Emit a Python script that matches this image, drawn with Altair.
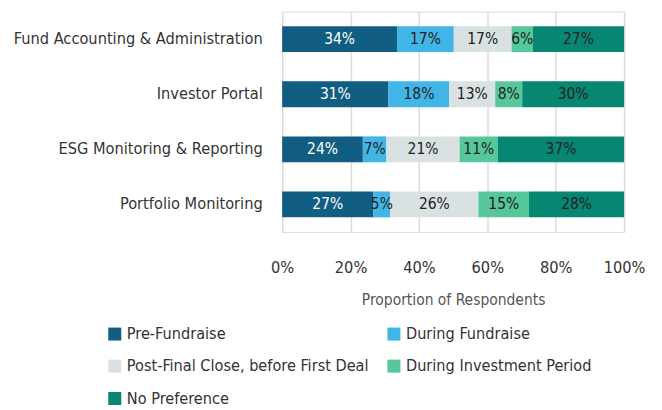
import altair as alt
import pandas as pd

categories = ["Fund Accounting & Administration", "Investor Portal",
              "ESG Monitoring & Reporting", "Portfolio Monitoring"]
series = ["Pre-Fundraise", "During Fundraise", "Post-Final Close, before First Deal",
          "During Investment Period", "No Preference"]
pre_fundraise = [33.6, 31.1, 23.6, 26.7]
during_fundraise = [16.6, 17.8, 6.9, 4.9]
post_final_close = [16.9, 13.4, 21.4, 25.8]
during_investment = [6.2, 7.9, 11.2, 14.8]
no_preference = [26.7, 29.8, 36.9, 27.8]
colors = ["#115e82", "#41b6e6", "#d9e1e2", "#56c79a", "#078771"]
x_ticks = [0, 20, 40, 60, 80, 100]

all_vals = [pre_fundraise, during_fundraise, post_final_close, during_investment, no_preference]
rows = []
for si, (s, vals) in enumerate(zip(series, all_vals)):
    for ci, c in enumerate(categories):
        rows.append({"category": c, "series": s, "order": si, "value": vals[ci],
                     "label": f"{round(vals[ci])}%"})
df = pd.DataFrame(rows)

# legend is laid out column by column: reorder so it reads row by row
legend_order = [series[0], series[2], series[4], series[1], series[3]]
legend_colors = [colors[series.index(s)] for s in legend_order]

FONT = "DejaVu Sans Condensed, Open Sans"

base = alt.Chart(df).transform_stack(
    stack="value", groupby=["category"], as_=["x0", "x1"],
    sort=[alt.SortField("order", order="ascending")]
).transform_calculate(mid="(datum.x0 + datum.x1) / 2")

y_enc = alt.Y("category:N", sort=categories, title=None,
              scale=alt.Scale(paddingInner=0.53, paddingOuter=0.265),
              axis=alt.Axis(labelFontSize=16.3, labelColor="#333333", labelFont=FONT,
                            ticks=False, domain=False, labelPadding=20, labelLimit=400))

bars = base.mark_bar().encode(
    x=alt.X("x0:Q", scale=alt.Scale(domain=[0, 100], nice=False),
            title="Proportion of Respondents",
            axis=alt.Axis(values=x_ticks, labelExpr="datum.value + '%'",
                          labelFontSize=16.3, labelColor="#333333", labelFont=FONT,
                          labelFlush=False,
                          titleFontSize=15.5, titleColor="#555555", titleFont=FONT,
                          titleFontWeight="normal", titlePadding=16,
                          ticks=False, domain=False, labelPadding=28,
                          grid=True, gridColor="#dcdcdc", gridWidth=1.5)),
    x2="x1:Q",
    y=y_enc,
    color=alt.Color("series:N", sort=legend_order,
                    scale=alt.Scale(domain=legend_order, range=legend_colors),
                    legend=alt.Legend(title=None, orient="none", legendX=-176, legendY=315,
                                      columns=2, symbolType="square", symbolSize=170,
                                      symbolStrokeWidth=0, labelFontSize=16.2,
                                      labelColor="#333333", labelFont=FONT,
                                      rowPadding=15.5, columnPadding=17, labelLimit=400,
                                      symbolOffset=0)),
)

texts = base.mark_text(fontSize=15.5, font=FONT).encode(
    x=alt.X("mid:Q"),
    y=alt.Y("category:N", sort=categories),
    text="label:N",
    color=alt.condition(alt.datum.series == "Pre-Fundraise",
                        alt.value("#ffffff"), alt.value("#222222")),
)

chart = alt.layer(bars, texts).properties(
    width=343, height=221,
    autosize=alt.AutoSizeParams(type="none"),
    padding={"left": 275, "top": 3, "right": 30, "bottom": 185},
).configure_view(stroke=None).configure(font=FONT)

chart.save("out.html", embed_options={"renderer": "svg", "actions": False})
